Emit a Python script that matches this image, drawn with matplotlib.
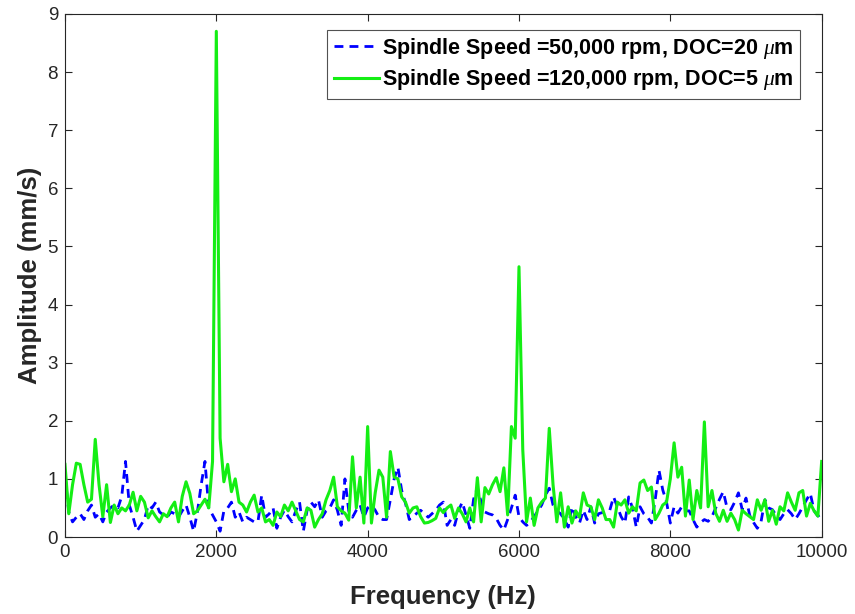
import matplotlib
matplotlib.use("Agg")
import matplotlib.pyplot as plt
import numpy as np

plt.rcParams['font.family'] = ['Liberation Sans', 'DejaVu Sans']
plt.rcParams['mathtext.fontset'] = 'custom'
plt.rcParams['mathtext.it'] = 'Liberation Serif:italic'

freq_step = 50
freq_max = 10000

green_120k = [
    1.25, 0.4, 0.9, 1.27, 1.25, 0.9, 0.6, 0.65, 1.68, 0.9,
    0.35, 0.9, 0.25, 0.55, 0.4, 0.5, 0.45, 0.55, 0.77, 0.45,
    0.7, 0.6, 0.33, 0.45, 0.35, 0.26, 0.4, 0.35, 0.5, 0.6,
    0.26, 0.7, 0.95, 0.75, 0.4, 0.45, 0.55, 0.65, 0.5, 1.3,
    8.7, 1.7, 0.95, 1.25, 0.78, 1.0, 0.6, 0.55, 0.43, 0.6,
    0.72, 0.43, 0.5, 0.26, 0.3, 0.2, 0.43, 0.35, 0.55, 0.45,
    0.6, 0.45, 0.3, 0.26, 0.5, 0.46, 0.17, 0.3, 0.4, 0.64,
    0.8, 1.03, 0.52, 0.45, 0.41, 0.29, 1.38, 0.5, 1.03, 0.24,
    1.9, 0.24, 0.76, 1.15, 1.03, 0.34, 1.47, 1.03, 1.0, 0.69,
    0.6, 0.41, 0.5, 0.52, 0.35, 0.24, 0.25, 0.28, 0.32, 0.5,
    0.42, 0.5, 0.55, 0.32, 0.5, 0.4, 0.26, 0.5, 0.26, 1.02,
    0.26, 0.85, 0.74, 0.9, 1.02, 0.78, 1.19, 0.38, 1.9, 1.7,
    4.65, 1.5, 0.26, 0.67, 0.2, 0.5, 0.6, 0.67, 1.87, 0.9,
    0.26, 0.76, 0.17, 0.52, 0.24, 0.45, 0.34, 0.76, 0.55, 0.52,
    0.3, 0.64, 0.5, 0.3, 0.3, 0.17, 0.6, 0.55, 0.64, 0.41,
    0.52, 0.45, 0.93, 0.98, 0.8, 0.86, 0.3, 0.41, 0.55, 0.6,
    1.0, 1.62, 1.03, 1.2, 0.36, 0.98, 0.3, 0.8, 0.5, 1.98,
    0.52, 0.8, 0.41, 0.27, 0.46, 0.27, 0.41, 0.3, 0.12, 0.46,
    0.4, 0.35, 0.3, 0.64, 0.46, 0.64, 0.27, 0.46, 0.22, 0.52,
    0.45, 0.76, 0.6, 0.46, 0.76, 0.8, 0.36, 0.58, 0.45, 0.36,
    1.3,
]

blue_50k = [
    1.07, 0.43, 0.26, 0.34, 0.4, 0.3, 0.45, 0.55, 0.34, 0.4,
    0.26, 0.43, 0.5, 0.55, 0.5, 0.7, 1.3, 0.55, 0.34, 0.1,
    0.2, 0.3, 0.55, 0.5, 0.6, 0.43, 0.38, 0.34, 0.43, 0.4,
    0.34, 0.45, 0.55, 0.34, 0.1, 0.43, 0.9, 1.3, 0.5, 0.38,
    0.26, 0.1, 0.45, 0.5, 0.6, 0.34, 0.43, 0.26, 0.34, 0.3,
    0.26, 0.26, 0.72, 0.34, 0.4, 0.5, 0.15, 0.34, 0.46, 0.35,
    0.26, 0.45, 0.6, 0.1, 0.46, 0.6, 0.52, 0.64, 0.34, 0.45,
    0.5, 0.64, 0.46, 0.2, 1.0, 0.45, 0.34, 0.46, 0.55, 0.34,
    0.5, 0.55, 0.46, 0.34, 0.3, 0.3, 0.64, 1.0, 1.2, 0.8,
    0.58, 0.3, 0.35, 0.41, 0.46, 0.4, 0.34, 0.4, 0.46, 0.55,
    0.6, 0.2, 0.3, 0.2, 0.45, 0.6, 0.38, 0.15, 0.65, 0.85,
    0.6, 0.43, 0.4, 0.38, 0.32, 0.2, 0.12, 0.3, 0.5, 0.72,
    0.35, 0.26, 0.2, 0.26, 0.35, 0.45, 0.55, 0.72, 0.84, 0.55,
    0.45, 0.4, 0.3, 0.17, 0.52, 0.35, 0.24, 0.46, 0.3, 0.52,
    0.24, 0.4, 0.42, 0.45, 0.46, 0.69, 0.52, 0.35, 0.24, 0.69,
    0.5, 0.17, 0.52, 0.4, 0.34, 0.24, 0.64, 1.15, 0.81, 0.6,
    0.24, 0.52, 0.41, 0.52, 0.45, 0.45, 0.3, 0.17, 0.25, 0.3,
    0.27, 0.35, 0.5, 0.65, 0.78, 0.5, 0.47, 0.6, 0.76, 0.47,
    0.67, 0.37, 0.25, 0.15, 0.27, 0.64, 0.5, 0.47, 0.37, 0.3,
    0.4, 0.47, 0.4, 0.3, 0.4, 0.52, 0.64, 0.75, 0.45, 0.36,
    0.4,
]

label_blue = r'Spindle Speed =50,000 rpm, DOC=20 $\mu$m'
label_green = r'Spindle Speed =120,000 rpm, DOC=5 $\mu$m'
x_ticks = [0, 2000, 4000, 6000, 8000, 10000]
y_ticks = list(range(0, 10))

freq = np.arange(0, freq_max + freq_step, freq_step)

fig = plt.figure(figsize=(8.55, 6.14), dpi=100)
ax = fig.add_axes([0.076, 0.1254, 0.885, 0.852])

ax.plot(freq, blue_50k, color='#0000ff', linestyle='--', linewidth=2.0,
        dashes=(3.2, 2.2), label=label_blue)
ax.plot(freq, green_120k, color='#14ee14', linestyle='-', linewidth=2.2,
        label=label_green)

ax.set_xlim(0, 10000)
ax.set_ylim(0, 9)
ax.set_xticks(x_ticks)
ax.set_yticks(y_ticks)
ax.tick_params(direction='in', top=True, right=True, labelsize=13.5,
               length=5, width=0.8, colors='#262626', pad=5)
for s in ax.spines.values():
    s.set_color('#262626')
    s.set_linewidth(0.8)

ax.set_xlabel('Frequency (Hz)', fontsize=18.5, fontweight='bold', color='#262626', labelpad=17)
ax.set_ylabel('Amplitude (mm/s)', fontsize=18.5, fontweight='bold', color='#262626', labelpad=4)

leg = ax.legend(loc='upper right', bbox_to_anchor=(0.972, 0.97),
                prop={'weight': 'bold', 'size': 15.5}, frameon=True, fancybox=False,
                edgecolor='#262626', handlelength=2.1, handletextpad=0.15,
                borderpad=0.3, labelspacing=0.3, borderaxespad=0)
leg.get_frame().set_linewidth(0.8)

fig.savefig('out.png', dpi=100)
